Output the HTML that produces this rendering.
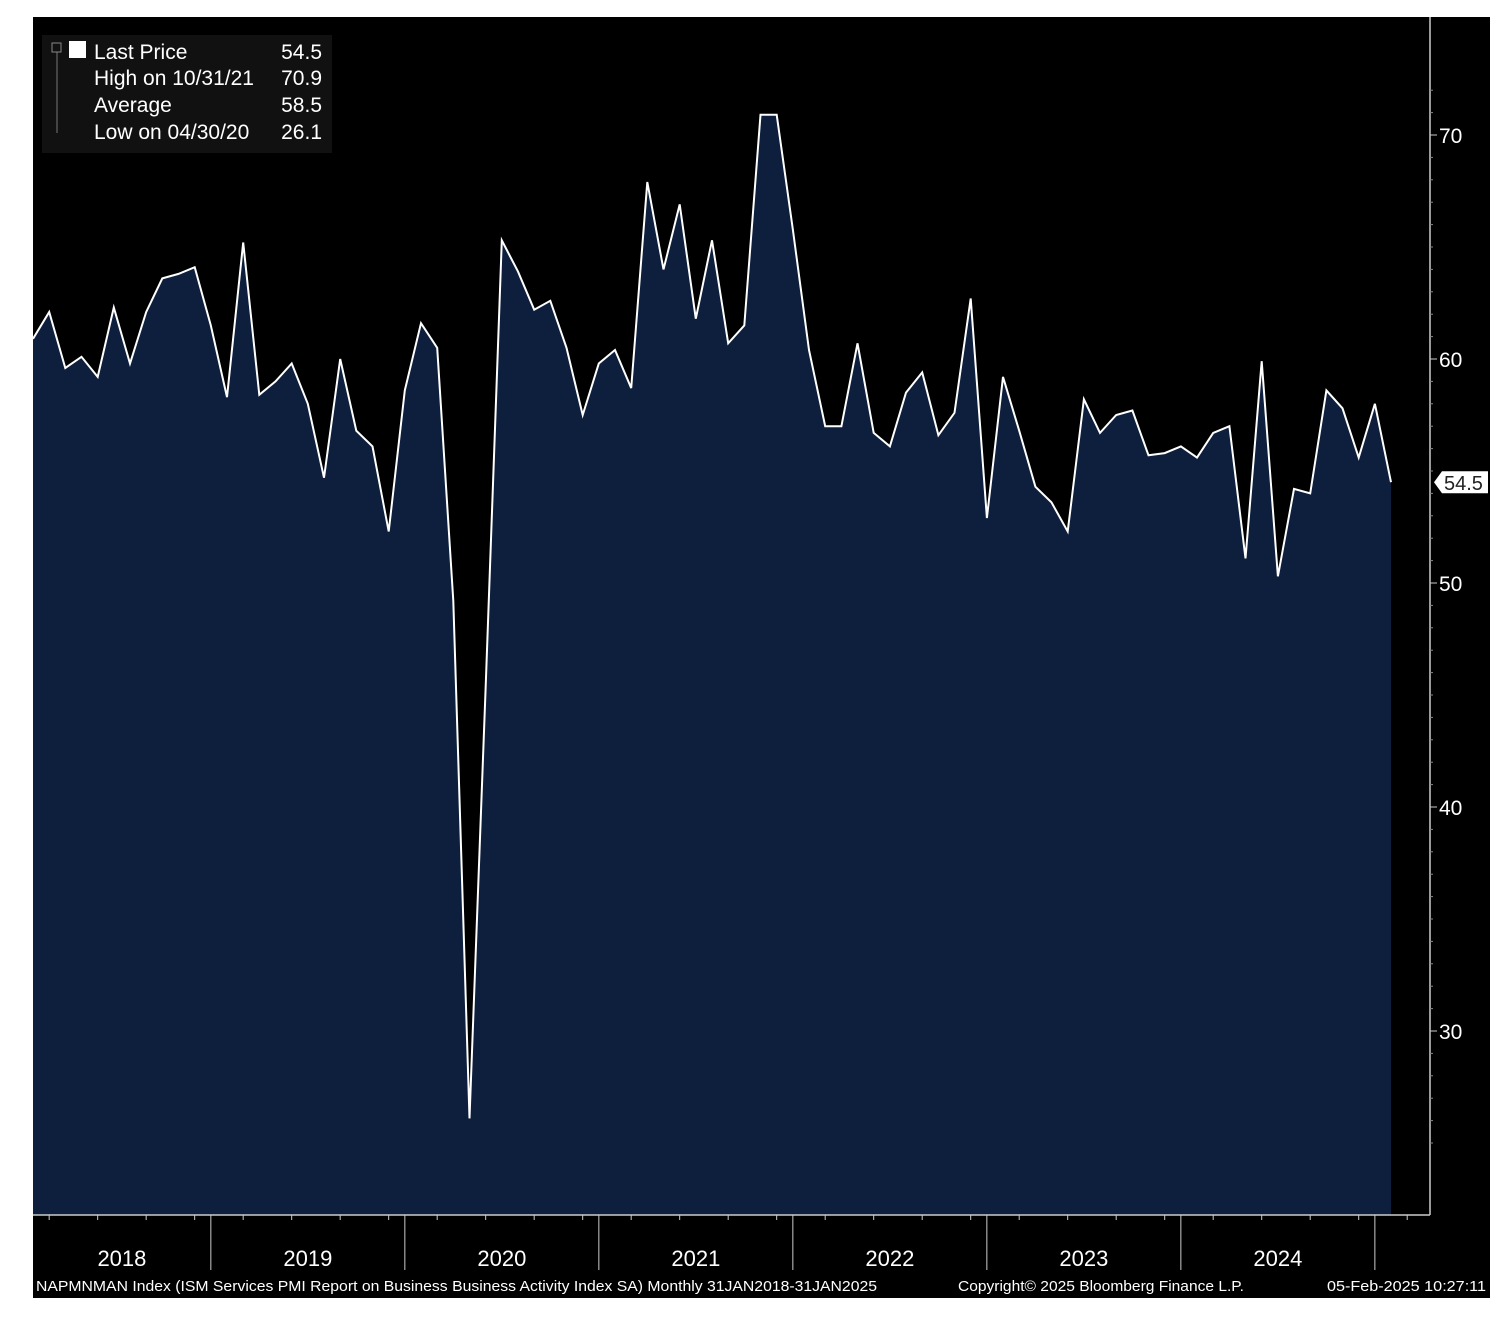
<!DOCTYPE html>
<html><head><meta charset="utf-8"><style>
body{margin:0;background:#fff;width:1510px;height:1320px;overflow:hidden}
svg{position:absolute;left:0;top:0}
text{font-family:"Liberation Sans","DejaVu Sans",sans-serif}
</style></head><body>
<svg id="chart" width="1510" height="1320">
<rect x="33" y="17" width="1457" height="1281" fill="#000"/>
<g id="marks"></g>
<g id="axes"></g>
<g>
<rect x="42" y="35" width="290" height="118" fill="#111" />
<line x1="57" y1="52" x2="57" y2="133" stroke="#777"/>
<rect x="52" y="43" width="9" height="9" fill="none" stroke="#888"/>
<rect x="69" y="41" width="17" height="17" fill="#fff"/>
<text x="94" y="59" fill="#fff" font-size="21">Last Price</text>
<text x="322" y="59" fill="#fff" font-size="21" text-anchor="end">54.5</text>
<text x="94" y="85" fill="#fff" font-size="21">High on 10/31/21</text>
<text x="322" y="85" fill="#fff" font-size="21" text-anchor="end">70.9</text>
<text x="94" y="112" fill="#fff" font-size="21">Average</text>
<text x="322" y="112" fill="#fff" font-size="21" text-anchor="end">58.5</text>
<text x="94" y="139" fill="#fff" font-size="21">Low on 04/30/20</text>
<text x="322" y="139" fill="#fff" font-size="21" text-anchor="end">26.1</text>
</g>
<text x="36" y="1291" fill="#fff" font-size="15" textLength="841" lengthAdjust="spacingAndGlyphs">NAPMNMAN Index (ISM Services PMI Report on Business Business Activity Index SA)  Monthly 31JAN2018-31JAN2025</text>
<text x="958" y="1291" fill="#fff" font-size="15" textLength="286" lengthAdjust="spacingAndGlyphs">Copyright© 2025 Bloomberg Finance L.P.</text>
<text x="1327" y="1291" fill="#fff" font-size="15" textLength="159" lengthAdjust="spacingAndGlyphs">05-Feb-2025 10:27:11</text>
</svg>
<script>
const values=[60.9,62.1,59.6,60.1,59.2,62.3,59.8,62.1,63.6,63.8,64.1,61.5,
58.3,65.2,58.4,59.0,59.8,58.0,54.7,60.0,56.8,56.1,52.3,58.6,
61.6,60.5,49.2,26.1,45.4,65.3,63.9,62.2,62.6,60.5,57.5,59.8,
60.4,58.7,67.9,64.0,66.9,61.8,65.3,60.7,61.5,70.9,70.9,65.8,
60.4,57.0,57.0,60.7,56.7,56.1,58.5,59.4,56.6,57.6,62.7,52.9,
59.2,56.8,54.3,53.6,52.3,58.2,56.7,57.5,57.7,55.7,55.8,56.1,
55.6,56.7,57.0,51.1,59.9,50.3,54.2,54.0,58.6,57.8,55.6,58.0,54.5];
const yTicks=[30,40,50,60,70];
const years=["2018","2019","2020","2021","2022","2023","2024"];
const lastLabel="54.5";
const NS="http://www.w3.org/2000/svg";
const X0=33,DX=16.167,AXY=1215,RX=1430;
const xs=i=>X0+i*DX;
const ys=v=>135+(70-v)*22.4;
function mk(t,a,p){const e=document.createElementNS(NS,t);for(const k in a)e.setAttribute(k,a[k]);p.appendChild(e);return e;}
const marks=document.getElementById('marks'),axes=document.getElementById('axes');
let pts=values.map((v,i)=>xs(i).toFixed(1)+","+ys(v).toFixed(1));
const area=mk('polygon',{points:X0+","+AXY+" "+pts.join(" ")+" "+xs(values.length-1).toFixed(1)+","+AXY,fill:'#0d1f3c'},marks);


const line=mk('polyline',{points:pts.join(" "),fill:'none',stroke:'#fff','stroke-width':2,'stroke-linejoin':'miter'},marks);


mk('line',{x1:X0,y1:AXY,x2:RX,y2:AXY,stroke:'#ccc','stroke-width':1.5},axes);
mk('line',{x1:RX,y1:17,x2:RX,y2:AXY,stroke:'#ccc','stroke-width':1.5},axes);
yTicks.forEach(t=>{const y=ys(t);
mk('line',{x1:RX,y1:y,x2:RX+7,y2:y,stroke:'#ccc'},axes);
const tx=mk('text',{x:RX+9,y:y+8,fill:'#fff','font-size':21},axes);tx.textContent=t;

});
for(let v=25;v<=72;v++){if(v%10==0)continue;mk('line',{x1:RX,y1:ys(v),x2:RX+3,y2:ys(v),stroke:'#888'},axes);}
for(let i=0;i<=84;i+=3){mk('line',{x1:xs(i+1),y1:AXY,x2:xs(i+1),y2:AXY+5,stroke:'#ccc'},axes);}
years.forEach((yr,k)=>{const xb=xs(11+12*k);const xp=k==0?X0:xs(11+12*(k-1));
mk('line',{x1:xb,y1:AXY,x2:xb,y2:AXY+55,stroke:'#ccc'},axes);
const tx=mk('text',{x:(xb+xp)/2,y:AXY+51,fill:'#fff','font-size':22,'text-anchor':'middle'},axes);tx.textContent=yr;

});
const ly=ys(values[values.length-1]);
const lb=mk('polygon',{points:(RX+4)+","+ly+" "+(RX+12)+","+(ly-11)+" "+(RX+58)+","+(ly-11)+" "+(RX+58)+","+(ly+11)+" "+(RX+12)+","+(ly+11),fill:'#fff'},axes);


const lt=mk('text',{x:RX+14,y:ly+8,fill:'#222','font-size':20},axes);lt.textContent=lastLabel;


</script>
</body></html>
